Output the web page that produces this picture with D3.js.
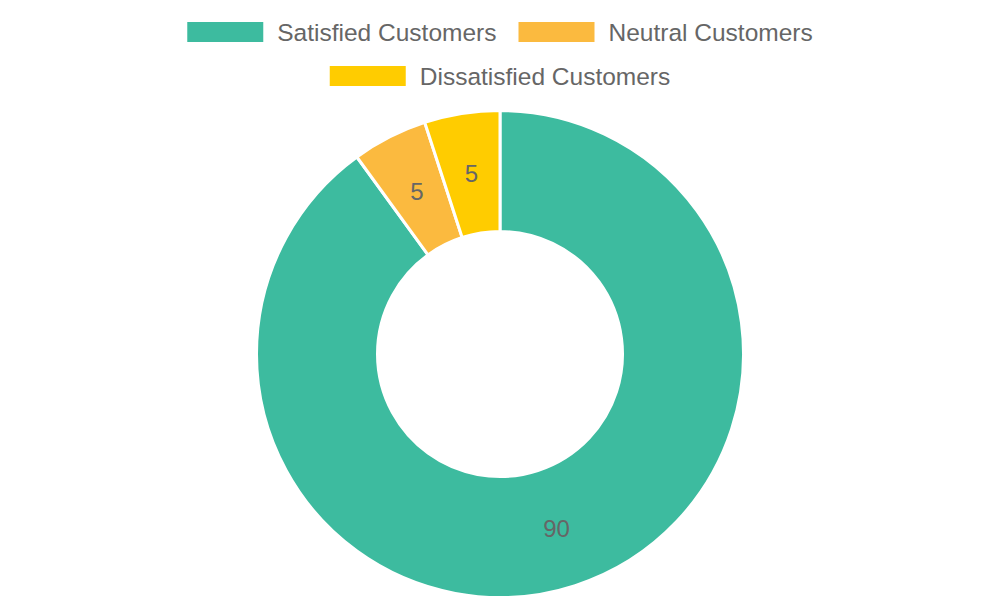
<!DOCTYPE html>
<html>
<head>
<meta charset="utf-8">
<script src="https://cdn.jsdelivr.net/npm/d3@7"></script>
<style>
  body { margin: 0; background: #fff; }
  svg { display: block; font-family: "Liberation Sans", Arial, sans-serif; }
</style>
</head>
<body>
<div id="chart"></div>
<script>
const categories = ["Satisfied Customers", "Neutral Customers", "Dissatisfied Customers"]
const values = [90, 5, 5]
const colors = ["#3dbb9f", "#fbba3f", "#ffcc00"]

const width = 1000
const height = 600
const cx = 500, cy = 354
const outerR = 243.5, innerR = 122.5

const svg = d3.select("#chart").append("svg")
    .attr("width", width)
    .attr("height", height)

// legend, two centred rows
const legendRows = [[0, 1], [2]]
const boxW = 76, boxH = 20, gap = 14, itemGap = 22, fontSize = 24.5
legendRows.forEach((row, r) => {
    const y = 22 + r * 44
    const g = svg.append("g")
    let x = 0
    row.forEach(i => {
        g.append("rect")
            .attr("x", x).attr("y", y)
            .attr("width", boxW).attr("height", boxH)
            .attr("fill", colors[i])
        const t = g.append("text")
            .attr("x", x + boxW + gap)
            .attr("y", y + boxH / 2)
            .attr("dy", "0.36em")
            .attr("fill", "#666")
            .style("font-size", fontSize + "px")
            .text(categories[i])
        x += boxW + gap + t.node().getComputedTextLength() + itemGap
    })
    const total = x - itemGap
    g.attr("transform", "translate(" + (width - total) / 2 + ",0)")
})

const pie = d3.pie().sort(null).value(d => d)
const arc = d3.arc().innerRadius(innerR).outerRadius(outerR)
const labelArc = d3.arc().innerRadius((innerR + outerR) / 2).outerRadius((innerR + outerR) / 2)

const slices = svg.append("g")
    .attr("transform", "translate(" + cx + "," + cy + ")")
    .selectAll("g")
    .data(pie(values))
    .enter()
    .append("g")

slices.append("path")
    .attr("d", arc)
    .attr("fill", (d, i) => colors[i])
    .attr("stroke", "#fff")
    .attr("stroke-width", 3)

slices.append("text")
    .attr("transform", d => "translate(" + labelArc.centroid(d) + ")")
    .attr("text-anchor", "middle")
    .attr("dy", "0.36em")
    .attr("fill", "#666")
    .style("font-size", "24px")
    .text(d => d.data)
</script>
</body>
</html>
